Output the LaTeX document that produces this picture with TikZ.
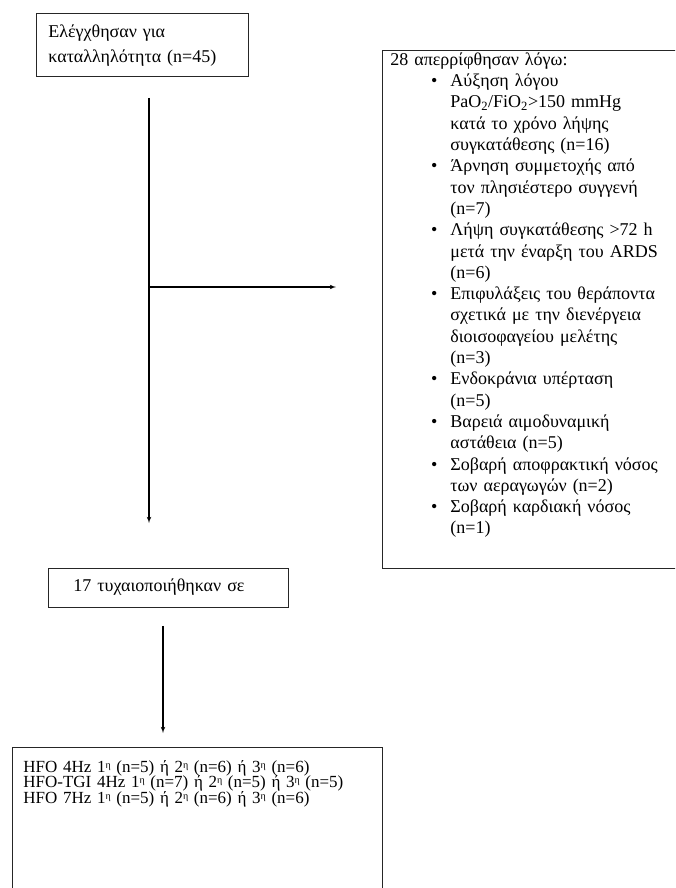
\documentclass[tikz,border=0pt]{standalone}
\usepackage{fontspec}
\setmainfont{Liberation Serif}
\usepackage{enumitem}
\usepackage{pgf,tikz}
\usetikzlibrary{arrows}
\tikzset{
  font={\fontsize{18pt}{21.3pt}\selectfont}}
\newcommand{\ordinal}{\raisebox{4pt}{\fontsize{10pt}{10pt}\selectfont η}}

\begin{document}
\begin{tikzpicture}[x=1pt, y=-1pt]

    \tikzset{edge/.style = {->, > = latex', line width=1.1pt}}
    \tikzset{panel/.style = {draw=black!85, line width=0.8pt, anchor=north west, inner ysep=0pt, align=left}}

    \path[use as bounding box, clip] (0,0) rectangle (675,888);

    % boxes
    \node[panel, inner xsep=12pt, text width=188pt, text height=24pt, text depth=39pt,
        font={\fontsize{18pt}{25pt}\selectfont}] (screened)
        at (36,13) {Ελέγχθησαν για\\καταλληλότητα (n=45)};
    \node[panel, inner xsep=8pt, text width=304pt, text height=15pt, text depth=503pt] (excluded)
        at (382,50) {28 απερρίφθησαν λόγω:
        \begin{itemize}[nosep, leftmargin=60pt, labelsep=13pt, label=\textbullet]
            \item Αύξηση λόγου\\ PaO\textsubscript{2}/FiO\textsubscript{2}>150 mmHg\\ κατά το χρόνο λήψης\\ συγκατάθεσης (n=16)
            \item Άρνηση συμμετοχής από\\ τον πλησιέστερο συγγενή\\ (n=7)
            \item Λήψη συγκατάθεσης >72 h\\ μετά την έναρξη του ARDS\\ (n=6)
            \item Επιφυλάξεις του θεράποντα\\ σχετικά με την διενέργεια\\ διοισοφαγείου μελέτης\\ (n=3)
            \item Ενδοκράνια υπέρταση\\ (n=5)
            \item Βαρειά αιμοδυναμική\\ αστάθεια (n=5)
            \item Σοβαρή αποφρακτική νόσος\\ των αεραγωγών (n=2)
            \item Σοβαρή καρδιακή νόσος\\ (n=1)
        \end{itemize}};
    \node[panel, inner xsep=25pt, text width=190pt, text height=23pt, text depth=16pt] (randomised)
        at (48,568) {17 τυχαιοποιήθηκαν σε};
    \node[panel, inner xsep=11pt, text width=348pt, text height=25pt, text depth=140pt,
        font={\fontsize{17pt}{15.5pt}\selectfont\lineskiplimit=-20pt}] (arms)
        at (12,747) {HFO 4Hz 1\ordinal{} (n=5) ή 2\ordinal{} (n=6) ή 3\ordinal{} (n=6)\\
        HFO-TGI 4Hz 1\ordinal{} (n=7) ή 2\ordinal{} (n=5) ή 3\ordinal{} (n=5)\\
        HFO 7Hz 1\ordinal{} (n=5) ή 2\ordinal{} (n=6) ή 3\ordinal{} (n=6)};

    \coordinate (branch) at (149,287);
    \coordinate (drop) at (163,680);

    %edges
    \draw[edge, shorten <=21pt, shorten >=45pt] (screened.south -| branch) -- (randomised.north -| branch);
    \draw[edge, shorten >=46pt] (branch) -- (branch -| excluded.west);
    \draw[edge, shorten <=18pt, shorten >=14pt] (randomised.south -| drop) -- (arms.north -| drop);

\end{tikzpicture}
\end{document}
